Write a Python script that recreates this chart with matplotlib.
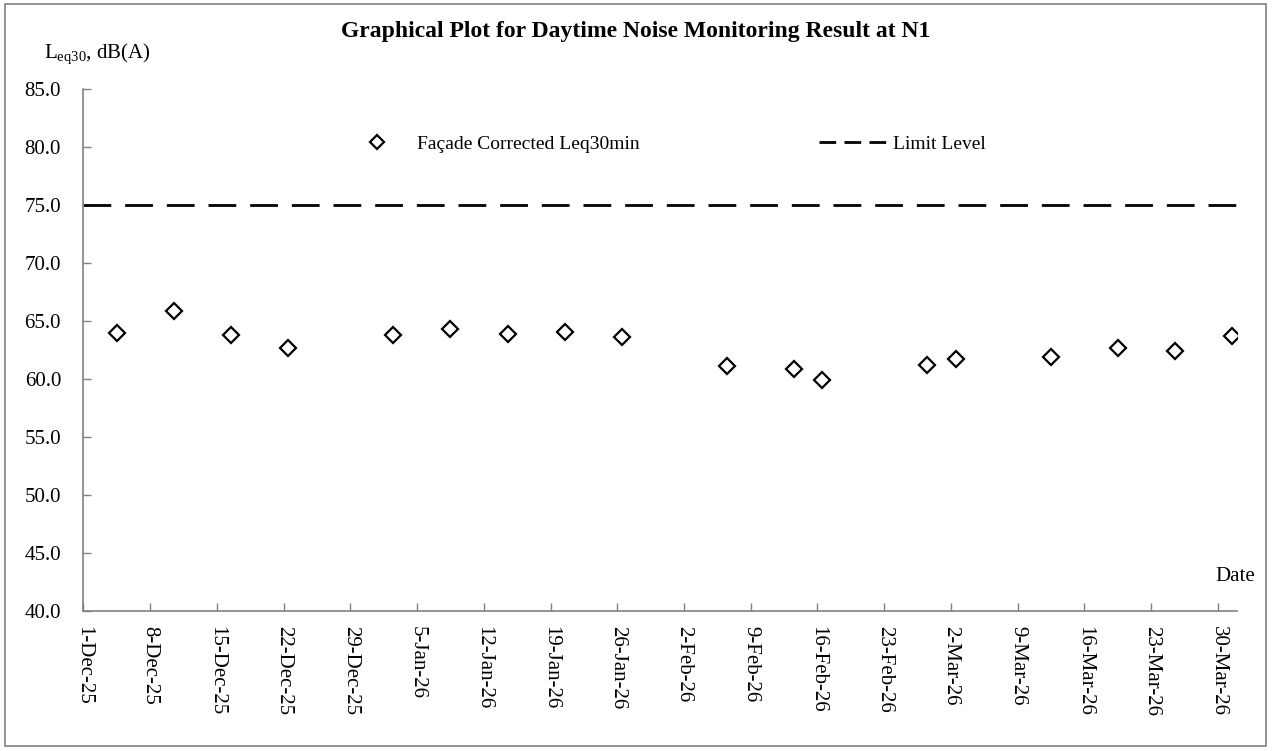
import matplotlib
matplotlib.use("Agg")
import matplotlib.pyplot as plt
from matplotlib.lines import Line2D
from matplotlib.patches import Rectangle
import pandas as pd

# monitoring data (daytime Leq30, facade corrected)
dates = ["2025-12-04", "2025-12-10", "2025-12-16", "2025-12-22", "2026-01-02",
         "2026-01-08", "2026-01-14", "2026-01-20", "2026-01-26", "2026-02-06",
         "2026-02-13", "2026-02-16", "2026-02-27", "2026-03-02", "2026-03-12",
         "2026-03-19", "2026-03-25", "2026-03-31"]
leq = [64.0, 65.9, 63.8, 62.7, 63.8, 64.3, 63.9, 64.1, 63.6, 61.1,
       60.9, 59.9, 61.2, 61.7, 61.9, 62.7, 62.4, 63.7]
limit = 75.0

plt.rcParams["font.family"] = ["Liberation Serif", "DejaVu Serif"]
plt.rcParams["mathtext.fontset"] = "custom"
plt.rcParams["mathtext.rm"] = "Liberation Serif"
plt.rcParams["mathtext.it"] = "Liberation Serif:italic"

fig = plt.figure(figsize=(12.72, 7.51), dpi=100)
ax = fig.add_axes([0.0655, 0.1864, 0.907, 0.6947])

# measurements are taken during the day -> place them mid-day
t = pd.to_datetime(dates) + pd.Timedelta(hours=12)
ax.plot(t, leq, linestyle="none", marker="D", markersize=8,
        markerfacecolor="white", markeredgecolor="black", markeredgewidth=1.6)
ax.axhline(limit, color="black", linewidth=2, dashes=(10, 5))

ax.set_ylim(40, 85)
ax.set_yticks(range(40, 86, 5))
ax.yaxis.set_major_formatter(plt.FuncFormatter(lambda v, p: f"{v:.1f}"))

ax.set_xlim(pd.Timestamp("2025-12-01"), pd.Timestamp("2026-04-01"))
ticks = pd.date_range("2025-12-01", "2026-03-30", freq="7D")
ax.set_xticks(ticks)
ax.set_xticklabels([f"{d.day}-{d:%b-%y}" for d in ticks], rotation=-90)

ax.tick_params(axis="both", direction="in", length=6, width=1, color="#808080",
               labelsize=15)
ax.tick_params(axis="y", pad=16)
ax.tick_params(axis="x", pad=11)
for s in ["top", "right"]:
    ax.spines[s].set_visible(False)
for s in ["left", "bottom"]:
    ax.spines[s].set_color("#808080")
    ax.spines[s].set_linewidth(1.2)

# legends
h1 = Line2D([], [], linestyle="none", marker="D", markersize=7,
            markerfacecolor="white", markeredgecolor="black", markeredgewidth=1.6)
h2 = Line2D([], [], color="black", linewidth=2, dashes=(6, 3))
leg1 = fig.legend([h1], ["Façade Corrected Leq30min"], loc="center left",
                  bbox_to_anchor=(0.271, 0.808), frameon=False, fontsize=14,
                  handlelength=1.5, handletextpad=1.3)
leg2 = fig.legend([h2], ["Limit Level"], loc="center left",
                  bbox_to_anchor=(0.6305, 0.808), frameon=False, fontsize=14,
                  handlelength=3.4, handletextpad=0.4)

fig.text(0.5, 1 - 31 / 751, "Graphical Plot for Daytime Noise Monitoring Result at N1",
         ha="center", va="center", fontsize=17, fontweight="bold")
fig.text(44 / 1272, 1 - 58 / 751, r"L$_{\mathrm{eq30}}$, dB(A)", ha="left",
         va="baseline", fontsize=15)
fig.text(1255 / 1272, 1 - 581 / 751, "Date", ha="right", va="baseline", fontsize=15)

fig.patches.append(Rectangle((5 / 1272, 1 - 746 / 751), 1261 / 1272, 742 / 751,
                             transform=fig.transFigure, fill=False,
                             edgecolor="#808080", linewidth=1.2))

fig.savefig("out.png", dpi=100)
